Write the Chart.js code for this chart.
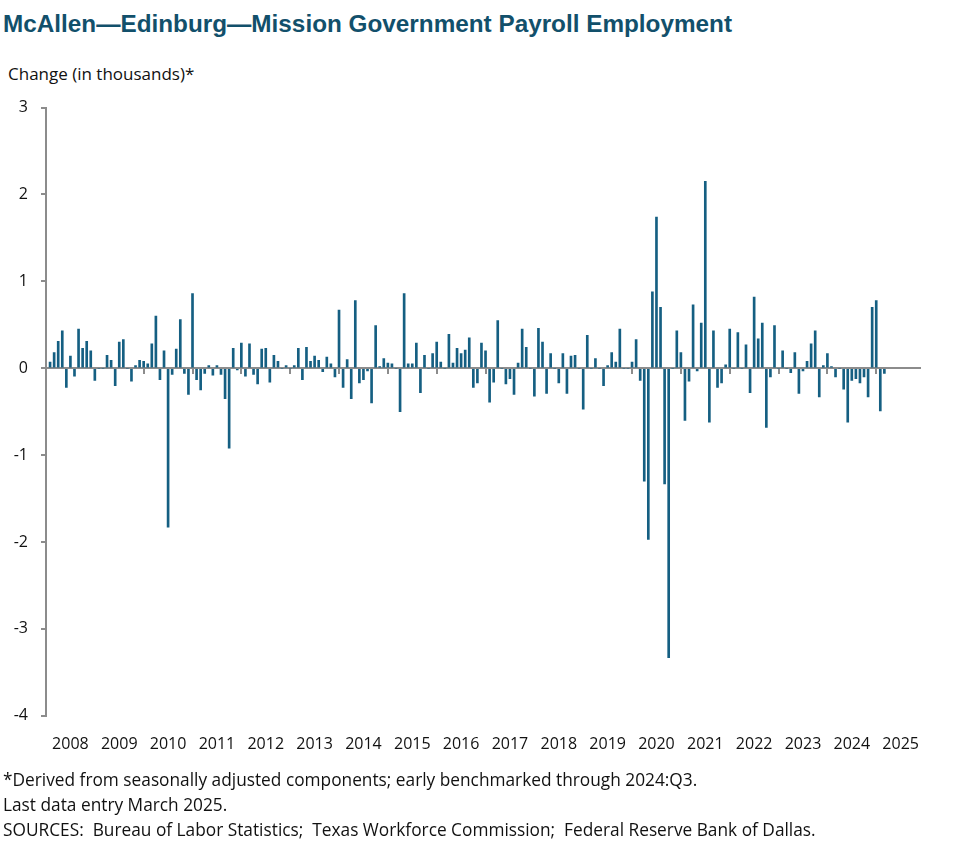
<!DOCTYPE html>
<html lang="en">
<head>
  <meta charset="UTF-8">
  <title>McAllen—Edinburg—Mission Government Payroll Employment</title>
  <script src="https://cdn.jsdelivr.net/npm/chart.js"></script>
  <style>
    body { margin: 0; background: #fff; font-family: "Open Sans", "Liberation Sans", Arial, sans-serif; color: #111; }
    #page { position: relative; width: 977px; height: 864px; overflow: hidden; }
    .title { position: absolute; left: 3px; top: 9px; font-family: "Liberation Sans", Arial, sans-serif; font-size: 24.3px; line-height: 30px; font-weight: bold; color: #12506b; white-space: nowrap; }
    .subtitle { position: absolute; left: 8px; top: 62px; font-size: 17px; line-height: 24px; white-space: nowrap; }
    .notes { position: absolute; left: 3px; top: 767px; font-size: 17.3px; line-height: 25px; white-space: nowrap; }
    #chartBox { position: absolute; left: 0; top: 85px; width: 940px; height: 692px; }
  </style>
</head>
<body>
<div id="page">
  <div class="title">McAllen—Edinburg—Mission Government Payroll Employment</div>
  <div class="subtitle">Change (in thousands)*</div>
  <div id="chartBox"><canvas id="payrollChart"></canvas></div>
  <div class="notes">
    *Derived from seasonally adjusted components; early benchmarked through 2024:Q3.<br>
    Last data entry March 2025.<br>
    SOURCES:&nbsp; Bureau of Labor Statistics;&nbsp; Texas Workforce Commission;&nbsp; Federal Reserve Bank of Dallas.
  </div>
</div>

<script>
  // Годы на оси X (подпись ставится на июль каждого года)
  const years = ['2008', '2009', '2010', '2011', '2012', '2013', '2014', '2015', '2016',
                 '2017', '2018', '2019', '2020', '2021', '2022', '2023', '2024', '2025'];
  const yTicks = [3, 2, 1, 0, -1, -2, -3, -4];

  // Помесячное изменение, тыс. (янв..дек)
  const chg2008 = [null, 0.07, 0.18, 0.31, 0.43, -0.22, 0.14, -0.09, 0.45, 0.23, 0.31, 0.20];
  const chg2009 = [-0.14, 0, 0, 0.15, 0.09, -0.20, 0.30, 0.33, 0, -0.15, 0.03, 0.09];
  const chg2010 = [0.08, 0.05, 0.28, 0.60, -0.13, 0.20, -1.83, -0.07, 0.22, 0.56, -0.06, -0.30];
  const chg2011 = [0.86, -0.13, -0.25, -0.06, 0.03, -0.08, 0.03, -0.07, -0.35, -0.92, 0.23, -0.02];
  const chg2012 = [0.29, -0.09, 0.28, -0.07, -0.18, 0.22, 0.23, -0.16, 0.15, 0.08, 0, 0.03];
  const chg2013 = [0, 0.03, 0.23, -0.13, 0.24, 0.08, 0.14, 0.09, -0.04, 0.13, 0.05, -0.10];
  const chg2014 = [0.67, -0.22, 0.10, -0.35, 0.78, -0.17, -0.13, -0.03, -0.40, 0.49, 0.02, 0.11];
  const chg2015 = [0.06, 0.05, 0, -0.50, 0.86, 0.05, 0.05, 0.29, -0.28, 0.15, 0, 0.17];
  const chg2016 = [0.30, 0.07, 0, 0.39, 0.06, 0.23, 0.17, 0.21, 0.35, -0.22, -0.17, 0.29];
  const chg2017 = [0.20, -0.39, -0.16, 0.55, 0, -0.18, -0.12, -0.30, 0.06, 0.45, 0.24, 0];
  const chg2018 = [-0.32, 0.46, 0.30, -0.29, 0.17, 0, -0.17, 0.17, -0.29, 0.14, 0.15, 0];
  const chg2019 = [-0.47, 0.38, 0, 0.11, 0, -0.20, 0.03, 0.18, 0.07, 0.45, 0, 0];
  const chg2020 = [0.07, 0.33, -0.14, -1.30, -1.97, 0.88, 1.74, 0.70, -1.33, -3.33, 0, 0.43];
  const chg2021 = [0.18, -0.60, -0.15, 0.73, -0.03, 0.52, 2.15, -0.62, 0.43, -0.22, -0.17, 0.04];
  const chg2022 = [0.45, 0, 0.41, 0, 0.27, -0.28, 0.82, 0.34, 0.52, -0.68, -0.10, 0.49];
  const chg2023 = [0, 0.20, 0, -0.05, 0.18, -0.29, -0.03, 0.08, 0.28, 0.43, -0.33, 0.03];
  const chg2024 = [0.17, 0.02, -0.10, 0, -0.24, -0.62, -0.14, -0.12, -0.17, -0.10, -0.33, 0.70];
  const chg2025 = [0.78, -0.49, -0.06];

  const allChanges = [].concat(chg2008, chg2009, chg2010, chg2011, chg2012, chg2013, chg2014,
    chg2015, chg2016, chg2017, chg2018, chg2019, chg2020, chg2021, chg2022, chg2023, chg2024, chg2025);

  // Категории: каждый месяц с янв 2008 по дек 2025
  const monthLabels = [];
  years.forEach(y => { for (let m = 1; m <= 12; m++) monthLabels.push(y + '-' + m); });

  const AXIS_GREY = '#8c8c8c';
  const LABEL_FONT = { family: 'Open Sans', size: 16 };

  const ctx = document.getElementById('payrollChart').getContext('2d');
  new Chart(ctx, {
    type: 'bar',
    data: {
      labels: monthLabels,
      datasets: [{
        data: allChanges,
        backgroundColor: '#155f82',
        barThickness: 2,
        xAxisID: 'x'
      }]
    },
    options: {
      responsive: true,
      maintainAspectRatio: false,
      animation: false,
      layout: { padding: { top: 12, right: 18, bottom: 4, left: 0 } },
      plugins: { legend: { display: false }, tooltip: { enabled: false } },
      scales: {
        x: {
          type: 'category',
          offset: false,
          grid: { display: false, offset: false, drawTicks: false },
          border: { display: false },
          ticks: {
            autoSkip: false, maxRotation: 0, minRotation: 0, padding: 19,
            color: '#111',
            font: LABEL_FONT,
            callback: (val, i) => (i % 12 === 6 ? years[Math.floor(i / 12)] : '')
          }
        },
        xt: {
          type: 'category',
          position: { y: 0 },
          offset: false,
          border: { display: false },
          grid: {
            offset: false, drawOnChartArea: false, drawTicks: true, tickLength: 6, lineWidth: 2,
            color: c => (c.index % 12 === 0 ? AXIS_GREY : 'transparent'),
            tickColor: c => (c.index % 12 === 0 ? AXIS_GREY : 'transparent')
          },
          ticks: { display: false, autoSkip: false }
        },
        y: {
          min: -4, max: 3,
          afterFit: s => { s.width = 46; },
          afterBuildTicks: s => { s.ticks = yTicks.map(v => ({ value: v })); },
          border: { display: true, color: AXIS_GREY, width: 2 },
          grid: {
            drawTicks: true, tickLength: 5, lineWidth: 2,
            color: c => (c.tick && c.tick.value === 0 ? AXIS_GREY : 'transparent'),
            tickColor: AXIS_GREY
          },
          ticks: {
            padding: 13, color: '#111',
            font: LABEL_FONT
          }
        }
      }
    }
  });
</script>
</body>
</html>
